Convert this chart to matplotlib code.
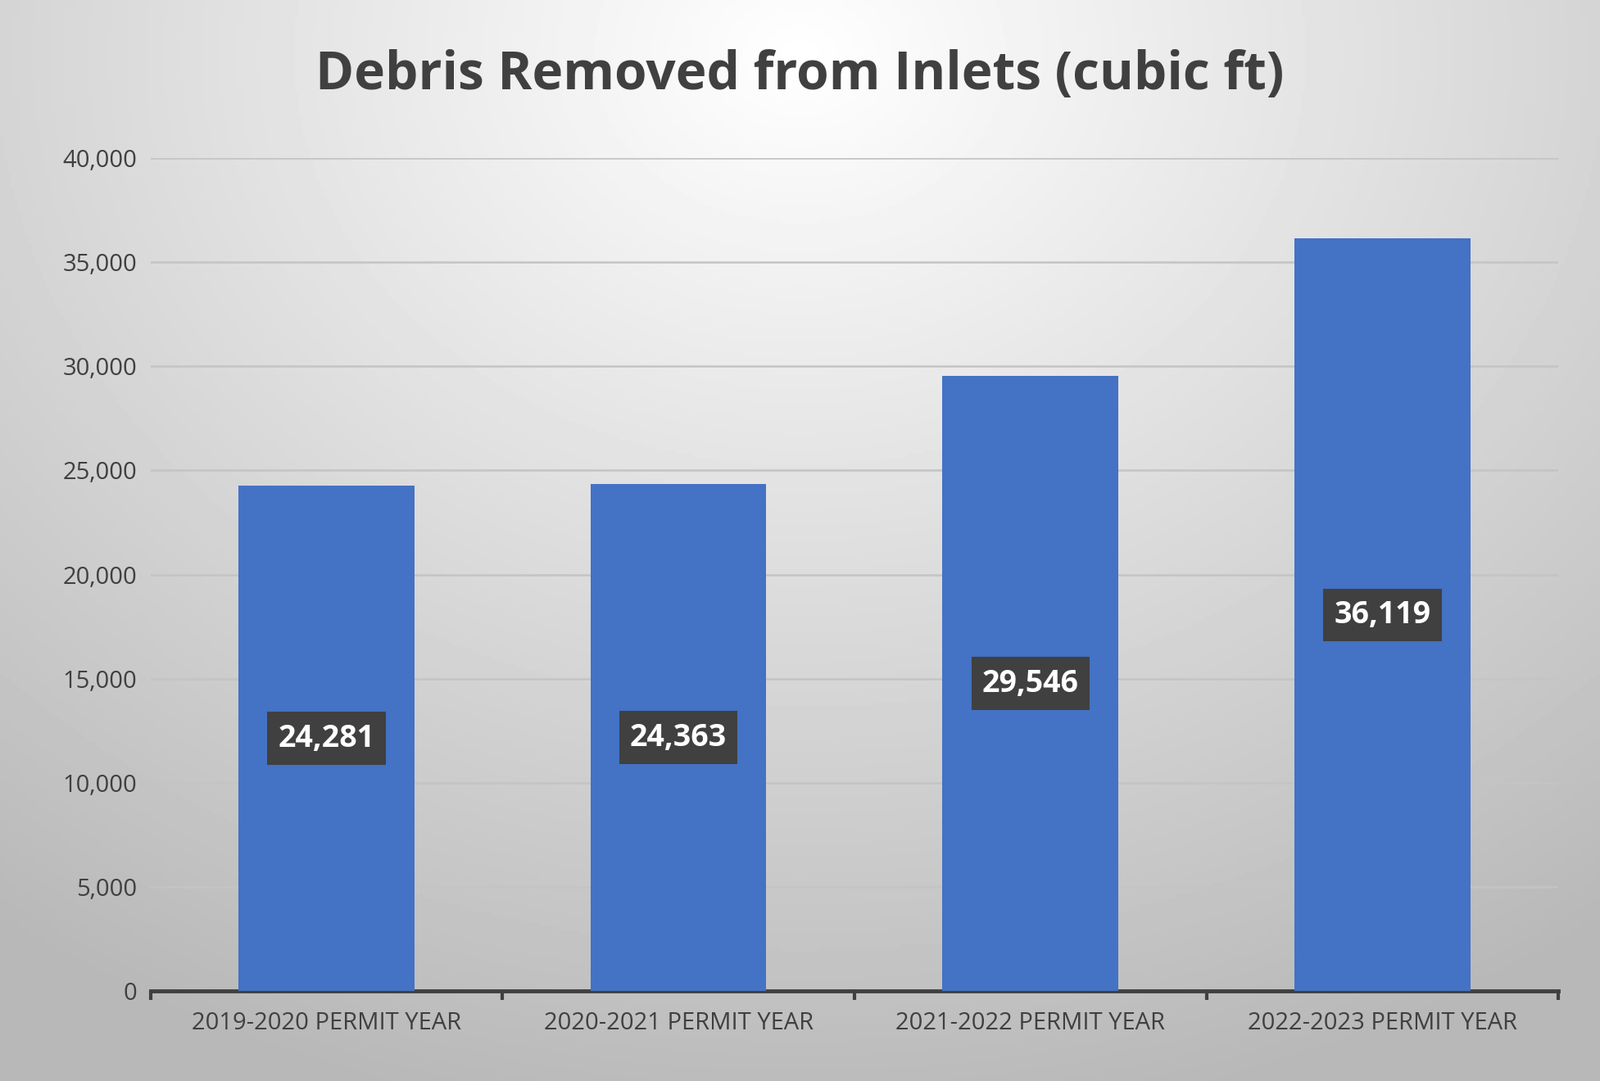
import matplotlib.pyplot as plt
import numpy as np

categories = ["2019-2020 PERMIT YEAR", "2020-2021 PERMIT YEAR",
              "2021-2022 PERMIT YEAR", "2022-2023 PERMIT YEAR"]
values = [24281, 24363, 29546, 36119]
y_ticks = [0, 5000, 10000, 15000, 20000, 25000, 30000, 35000, 40000]

plt.rcParams["font.family"] = "Open Sans"

fig = plt.figure(figsize=(19.53, 13.2), dpi=100)

# radial gray background
bg = fig.add_axes([0, 0, 1, 1], zorder=-10)
yy, xx = np.mgrid[0:1:300j, 0:1:450j]
r = np.sqrt(((xx - 0.5) / 0.75) ** 2 + ((yy - 0.05) / 0.9) ** 2)
shade = np.clip(1.0 - 0.25 * r, 0.72, 1.0)
bg.imshow(shade, cmap="gray", vmin=0, vmax=1, aspect="auto", extent=[0, 1, 0, 1])
bg.axis("off")

ax = fig.add_axes([0.094, 0.083, 0.88, 0.771])
ax.patch.set_alpha(0)
x = np.arange(len(categories))
ax.bar(x, values, width=0.5, color="#4472C4", zorder=3)
ax.set_xlim(-0.5, len(categories) - 0.5)
ax.set_ylim(0, 40000)
ax.set_yticks(y_ticks)
ax.set_yticklabels([f"{v:,}" for v in y_ticks], fontsize=21, color="#404040")
ax.yaxis.grid(True, color="#c4c4c4", linewidth=1.8, zorder=0)
ax.tick_params(axis="y", length=0, pad=12)
ax.set_xticks(x)
ax.set_xticklabels(categories, fontsize=21, color="#404040")
ax.set_xticks(np.arange(-0.5, len(categories)), minor=True)
ax.tick_params(axis="x", which="major", length=0, pad=18)
ax.tick_params(axis="x", which="minor", length=8, width=3, color="#404040", direction="out")
for s in ["top", "right", "left"]:
    ax.spines[s].set_visible(False)
ax.spines["bottom"].set_color("#404040")
ax.spines["bottom"].set_linewidth(3.5)

for xi, v in zip(x, values):
    ax.text(xi, v / 2, f"{v:,}", ha="center", va="center", fontsize=27,
            fontweight="bold", color="white", zorder=5,
            bbox=dict(boxstyle="square,pad=0.35", fc="#404040", ec="none"))

fig.text(0.5, 0.93, "Debris Removed from Inlets (cubic ft)", ha="center", va="center",
         fontsize=46, fontweight="bold", color="#404040")

fig.savefig("out.png", dpi=100)
